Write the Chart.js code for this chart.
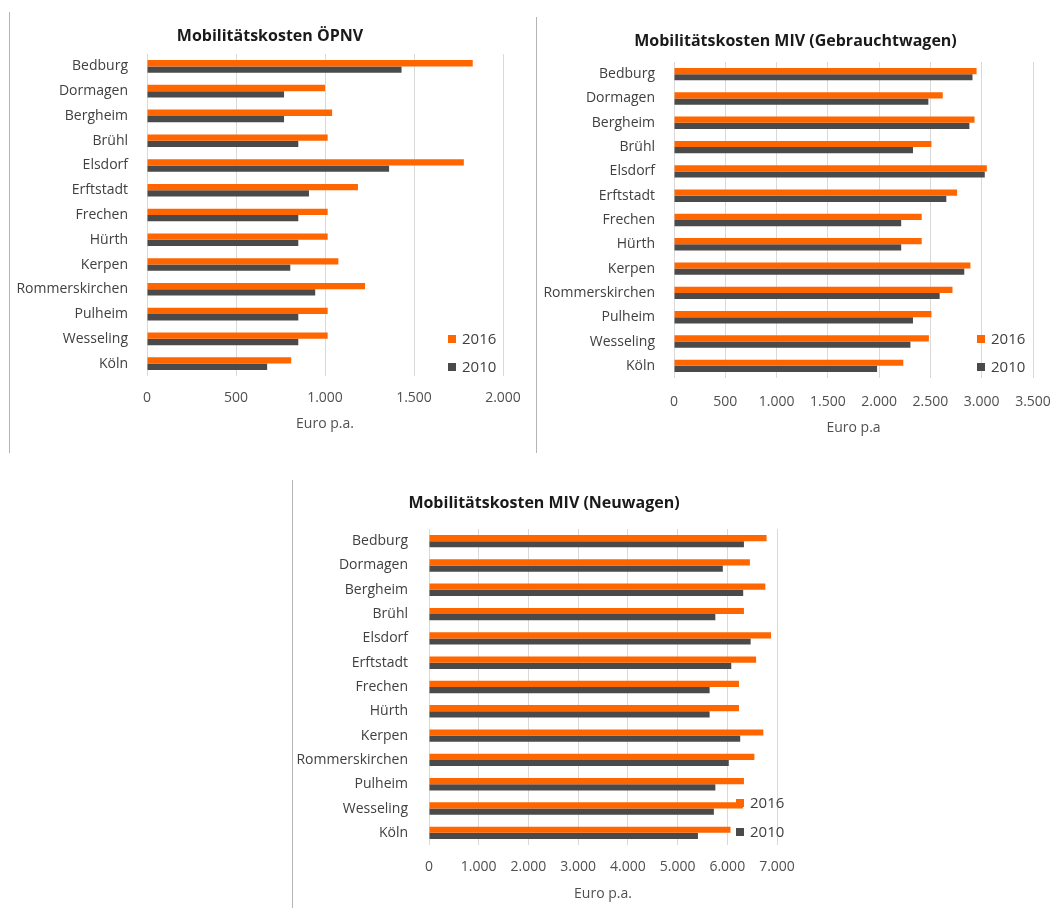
<!DOCTYPE html>
<html><head><meta charset="utf-8">
<script src="https://cdn.jsdelivr.net/npm/chart.js@4"></script>
<style>
html,body{margin:0;padding:0;background:#fff;}
body{width:1054px;height:908px;position:relative;overflow:hidden;}
.panel{position:absolute;border-left:1px solid #b4b4b4;}
.panel canvas{display:block;}
</style></head><body>
<div class="panel" style="left:9px;top:12px;height:441px"><canvas id="c1" width="520" height="441"></canvas></div>
<div class="panel" style="left:536px;top:17px;height:436px"><canvas id="c2" width="517" height="436"></canvas></div>
<div class="panel" style="left:292px;top:480px;height:428px"><canvas id="c3" width="502" height="428"></canvas></div>
<script>
const categories = ['Bedburg','Dormagen','Bergheim','Brühl','Elsdorf','Erftstadt','Frechen','Hürth','Kerpen','Rommerskirchen','Pulheim','Wesseling','Köln'];
const seriesNames = ['2016','2010'];
const oepnv2016 = [1830,1000,1040,1015,1780,1185,1015,1015,1075,1225,1015,1015,810];
const oepnv2010 = [1430,770,770,850,1360,910,850,850,805,945,850,850,675];
const gebraucht2016 = [2950,2620,2930,2510,3050,2760,2415,2415,2890,2715,2510,2485,2235];
const gebraucht2010 = [2910,2480,2880,2330,3030,2655,2215,2215,2830,2590,2330,2305,1980];
const neu2016 = [6790,6455,6765,6335,6880,6580,6235,6235,6725,6545,6335,6315,6065];
const neu2010 = [6335,5910,6320,5760,6470,6080,5645,5645,6260,6030,5760,5730,5410];
const chartTitles = ['Mobilitätskosten ÖPNV','Mobilitätskosten MIV (Gebrauchtwagen)','Mobilitätskosten MIV (Neuwagen)'];
const axisTitles = ['Euro p.a.','Euro p.a','Euro p.a.'];
const axisMax = [2000,3500,7000];
const axisStep = [500,500,1000];

const FONT = "'Open Sans', 'Noto Sans', sans-serif";
const ORANGE = '#FF6600';
const GRAY = '#4A4A4A';

function fmt(v){ return String(v).replace(/\B(?=(\d{3})+(?!\d))/g,'.'); }

const innerLegend = {
  id:'innerLegend',
  afterDraw(chart, args, o){
    const ctx = chart.ctx, a = chart.chartArea;
    ctx.save();
    ctx.font = '15px ' + FONT;
    ctx.textBaseline = 'middle';
    ctx.textAlign = 'left';
    chart.data.datasets.forEach((ds,i)=>{
      const cy = a.bottom + o.ys[i];
      const bx = a.right + o.x;
      ctx.fillStyle = ds.backgroundColor;
      ctx.fillRect(bx, cy-4, 8, 8);
      ctx.fillStyle = '#404040';
      ctx.fillText(ds.label, bx+14, cy+0.5);
    });
    ctx.restore();
  }
};

function makeChart(id, i, d16, d10, L){
  return new Chart(document.getElementById(id), {
    type:'bar',
    data:{labels:categories, datasets:[
      {label:seriesNames[0], data:d16, backgroundColor:ORANGE, categoryPercentage:0.51, barPercentage:1.0},
      {label:seriesNames[1], data:d10, backgroundColor:GRAY, categoryPercentage:0.51, barPercentage:1.0}
    ]},
    options:{
      indexAxis:'y', responsive:false, animation:false,
      layout:{padding:0},
      plugins:{
        legend:{display:false}, tooltip:{enabled:false},
        title:{display:true, text:chartTitles[i], color:'#1a1a1a',
          font:{family:FONT,size:16,weight:'bold'},
          padding:{top:L.titleTop,bottom:L.chartTop-L.titleTop-19.2}},
        innerLegend:{x:L.legX, ys:L.legY}
      },
      scales:{
        x:{min:0,max:axisMax[i],
          ticks:{stepSize:axisStep[i],callback:v=>fmt(v),color:'#505050',font:{family:FONT,size:14},padding:L.tickPad,maxRotation:0},
          grid:{color:'#D9D9D9',drawTicks:false,lineWidth:1},
          border:{display:false},
          title:{display:true,text:axisTitles[i],color:'#505050',font:{family:FONT,size:14},padding:{top:0,bottom:L.axTitleBottom}},
          afterFit(s){ s.height = L.xHeight; s.paddingLeft = 0; s.paddingRight = L.padRight; }
        },
        y:{
          ticks:{color:'#404040',font:{family:FONT,size:14},padding:L.yPad},
          grid:{display:false,drawTicks:false},
          border:{display:false},
          afterFit(s){ s.width = L.yWidth; s.paddingTop = 0; s.paddingBottom = 0; }
        }
      }
    },
    plugins:[innerLegend]
  });
}

makeChart('c1',0,oepnv2016,oepnv2010,{padRight:27,titleTop:15,chartTop:42,xHeight:77,tickPad:13.5,axTitleBottom:21,yWidth:137,yPad:19,legX:-55,legY:[-37,-9]});
makeChart('c2',1,gebraucht2016,gebraucht2010,{padRight:21,titleTop:15,chartTop:45,xHeight:75,tickPad:15.5,axTitleBottom:17,yWidth:137,yPad:19,legX:-56,legY:[-39,-11]});
makeChart('c3',2,neu2016,neu2010,{padRight:18,titleTop:14,chartTop:49,xHeight:63,tickPad:13.5,axTitleBottom:6,yWidth:136,yPad:21,legX:-41,legY:[-42,-13]});
</script>
</body></html>
